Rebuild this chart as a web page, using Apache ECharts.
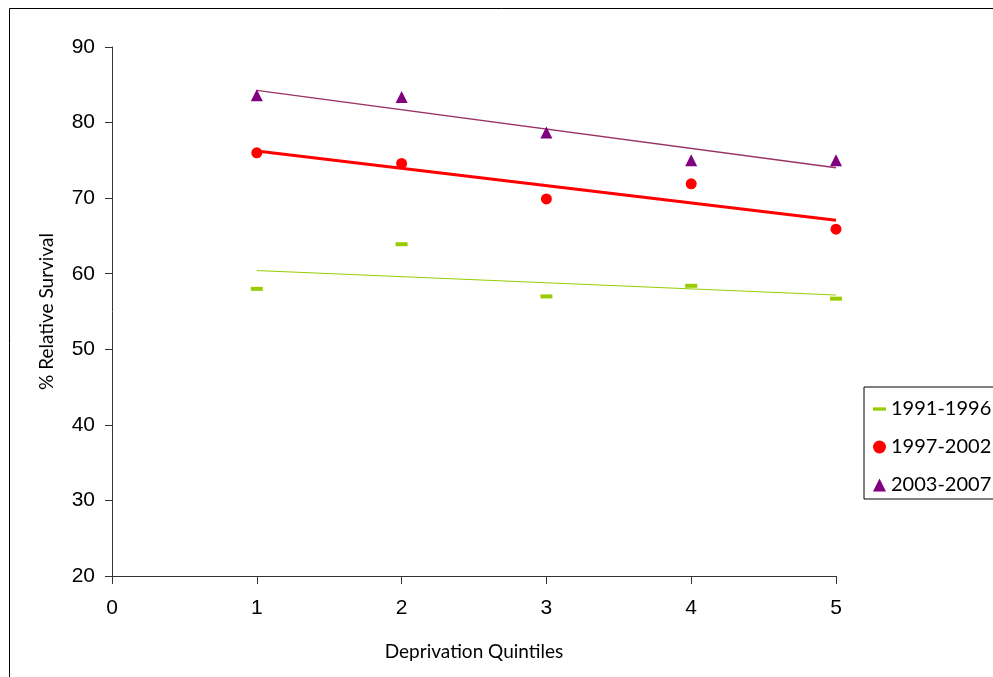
<!DOCTYPE html>
<html><head><meta charset="utf-8">
<script src="https://cdn.jsdelivr.net/npm/echarts@6/dist/echarts.min.js"></script>
<style>html,body{margin:0;padding:0;background:#fff}#c{width:993px;height:677px}</style>
</head><body><div id="c"></div>
<script>
const quintiles = [1, 2, 3, 4, 5];
const seriesNames = ['1991-1996', '1997-2002', '2003-2007'];
const s1991 = [58.0, 63.9, 57.0, 58.4, 56.7];
const s1997 = [76.0, 74.6, 69.9, 71.9, 65.9];
const s2003 = [83.6, 83.4, 78.7, 75.0, 75.0];
const xTicks = [0, 1, 2, 3, 4, 5];
const yTicks = [20, 30, 40, 50, 60, 70, 80, 90];

function trend(ys) {
  const n = quintiles.length;
  const mx = quintiles.reduce((a, b) => a + b, 0) / n;
  const my = ys.reduce((a, b) => a + b, 0) / n;
  let sxy = 0, sxx = 0;
  for (let i = 0; i < n; i++) { sxy += (quintiles[i] - mx) * (ys[i] - my); sxx += (quintiles[i] - mx) ** 2; }
  const b = sxy / sxx, a = my - b * mx;
  const x0 = quintiles[0], x1 = quintiles[n - 1];
  return [[x0, a + b * x0], [x1, a + b * x1]];
}
const pts = ys => quintiles.map((x, i) => [x, ys[i]]);

const chart = echarts.init(document.getElementById('c'));
chart.setOption({
  animation: false,
  backgroundColor: '#fff',
  graphic: [{ type: 'rect', shape: { x: 9.5, y: 8.5, width: 1000, height: 700 }, style: { fill: 'none', stroke: '#000', lineWidth: 1 }, silent: true }],
  grid: { left: 112, right: 157, top: 47, bottom: 101 },
  xAxis: {
    type: 'value', min: xTicks[0], max: xTicks[xTicks.length - 1], interval: 1,
    name: 'Deprivation Quintiles', nameLocation: 'middle', nameGap: 66,
    nameTextStyle: { fontFamily: 'Lato', fontSize: 19, color: '#000' },
    axisLine: { lineStyle: { color: '#333', width: 1 } },
    axisTick: { show: true, length: 8, lineStyle: { color: '#333' } },
    axisLabel: { fontFamily: 'Liberation Sans', fontSize: 21, color: '#000', margin: 22 },
    splitLine: { show: false }
  },
  yAxis: {
    type: 'value', min: yTicks[0], max: yTicks[yTicks.length - 1], interval: 10,
    name: '% Relative Survival', nameLocation: 'middle', nameGap: 56, nameRotate: 90,
    nameTextStyle: { fontFamily: 'Lato', fontSize: 19, color: '#000' },
    axisLine: { show: true, lineStyle: { color: '#333', width: 1 } },
    axisTick: { show: true, length: 7, lineStyle: { color: '#333' } },
    axisLabel: { fontFamily: 'Liberation Sans', fontSize: 21, color: '#000', margin: 17 },
    splitLine: { show: false }
  },
  legend: {
    orient: 'vertical', left: 864, top: 387,
    padding: [12, 40, 4, 9], itemGap: 18,
    borderColor: '#000', borderWidth: 1,
    itemWidth: 13, itemHeight: 13,
    textStyle: { fontFamily: 'Lato', fontSize: 20, color: '#000' },
    data: [
      { name: seriesNames[0], icon: 'path://M0,5 L12,5 L12,8 L0,8 Z' },
      { name: seriesNames[1], icon: 'circle' },
      { name: seriesNames[2], icon: 'triangle' }
    ]
  },
  series: [
    { name: seriesNames[0], type: 'scatter', data: pts(s1991), symbol: 'rect', symbolSize: [12, 4], itemStyle: { color: '#99cc00', opacity: 1 }, z: 5 },
    { name: seriesNames[1], type: 'scatter', data: pts(s1997), symbol: 'circle', symbolSize: 11, itemStyle: { color: '#ff0000', opacity: 1 }, z: 5 },
    { name: seriesNames[2], type: 'scatter', data: pts(s2003), symbol: 'triangle', symbolSize: 12, itemStyle: { color: '#800080', opacity: 1 }, z: 5 },
    { name: 'trend1', type: 'line', data: trend(s1991), symbol: 'none', lineStyle: { color: '#99cc00', width: 1 }, z: 3 },
    { name: 'trend2', type: 'line', data: trend(s1997), symbol: 'none', lineStyle: { color: '#ff0000', width: 3 }, z: 3 },
    { name: 'trend3', type: 'line', data: trend(s2003), symbol: 'none', lineStyle: { color: '#993366', width: 1.5 }, z: 3 }
  ]
});
</script></body></html>
